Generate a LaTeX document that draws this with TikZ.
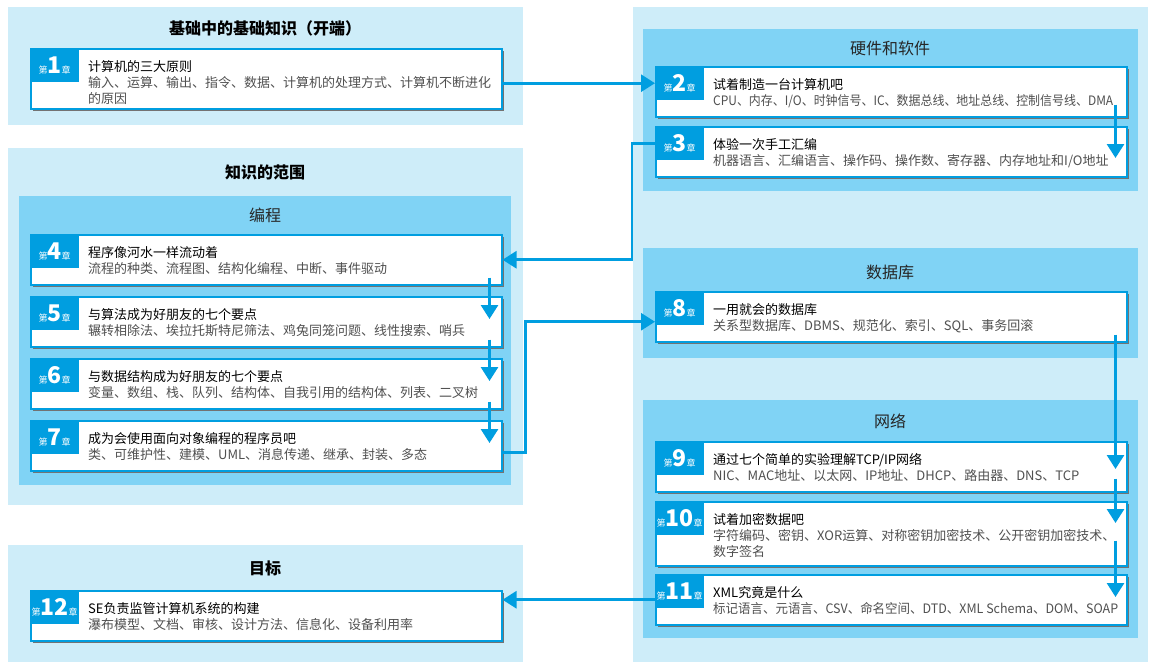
\documentclass[tikz,border=0pt]{standalone}
\usepackage{fontspec}
\setmainfont{Noto Sans CJK SC}
\usepackage{tikz}
\usetikzlibrary{arrows.meta, shadows}

\definecolor{paleblue}{RGB}{206,237,249}
\definecolor{midblue}{RGB}{128,211,245}
\definecolor{chapblue}{RGB}{0,158,224}
\definecolor{bodygray}{RGB}{80,80,80}

\newcommand{\chno}[1]{{\fontsize{9}{9}\selectfont 第}{\fontsize{23}{23}\selectfont\bfseries #1}{\fontsize{9}{9}\selectfont 章}}

\begin{document}
\begin{tikzpicture}[x=1pt, y=-1pt,
  outer/.style={fill=paleblue},
  inner/.style={fill=midblue},
  head/.style={font=\fontsize{16}{16}\selectfont\bfseries},
  subhead/.style={font=\fontsize{16}{16}\selectfont, text=black!85},
  chap/.style={draw=chapblue, line width=1.5pt, fill=white, minimum width=471, anchor=north west, inner sep=0,
    drop shadow={shadow xshift=2pt, shadow yshift=-2pt, fill=black!55, opacity=1}},
  tab/.style={fill=chapblue, text=white, minimum width=49, minimum height=34, anchor=north west, inner sep=0},
  txt/.style={anchor=base west, align=left, inner sep=0, font=\fontsize{13}{16}\selectfont},
  link/.style={draw=chapblue, line width=2.8pt, -{Triangle[width=17pt,length=14pt]}}]
  \useasboundingbox (0,0) rectangle (1152,672);

  % panels
  \fill[outer] (8,7) rectangle (523,125);
  \fill[outer] (8,148) rectangle (523,505);
  \fill[inner] (19,196) rectangle (511,485);
  \fill[outer] (8,545) rectangle (523,662);
  \fill[outer] (633,7) rectangle (1148,662);
  \fill[inner] (643,29) rectangle (1138,191);
  \fill[inner] (643,248) rectangle (1138,358);
  \fill[inner] (643,400) rectangle (1138,638);

  \node[head] (h1) at (265,28) {基础中的基础知识（开端）};
  \node[head] (h2) at (265,172) {知识的范围};
  \node[subhead] (h3) at (265,215) {编程};
  \node[head] (h4) at (265,568) {目标};
  \node[subhead] (h5) at (890,48) {硬件和软件};
  \node[subhead] (h6) at (890,272) {数据库};
  \node[subhead] (h7) at (890,421) {网络};

  % chapters
  \node[chap, minimum height=60] (c1) at (30,48) {};
  \node[tab] (t1) at (c1.north west) {\chno{1}};
  \node[txt] (x1) at ([shift={(58,55)}]c1.north west) {计算机的三大原则\\
    \color{bodygray}输入、运算、输出、指令、数据、计算机的处理方式、计算机不断进化\\\color{bodygray}的原因};

  \node[chap, minimum height=50] (c2) at (655,66) {};
  \node[tab] (t2) at (c2.north west) {\chno{2}};
  \node[txt] (x2) at ([shift={(58,39)}]c2.north west) {试着制造一台计算机吧\\
    \color{bodygray}\scalebox{0.92}[1]{CPU、内存、I/O、时钟信号、IC、数据总线、地址总线、控制信号线、DMA}};

  \node[chap, minimum height=50] (c3) at (655,126) {};
  \node[tab] (t3) at (c3.north west) {\chno{3}};
  \node[txt] (x3) at ([shift={(58,39)}]c3.north west) {体验一次手工汇编\\
    \color{bodygray}机器语言、汇编语言、操作码、操作数、寄存器、内存地址和I/O地址};

  \node[chap, minimum height=50] (c4) at (30,234) {};
  \node[tab] (t4) at (c4.north west) {\chno{4}};
  \node[txt] (x4) at ([shift={(58,39)}]c4.north west) {程序像河水一样流动着\\
    \color{bodygray}流程的种类、流程图、结构化编程、中断、事件驱动};

  \node[chap, minimum height=50] (c5) at (30,296) {};
  \node[tab] (t5) at (c5.north west) {\chno{5}};
  \node[txt] (x5) at ([shift={(58,39)}]c5.north west) {与算法成为好朋友的七个要点\\
    \color{bodygray}辗转相除法、埃拉托斯特尼筛法、鸡兔同笼问题、线性搜索、哨兵};

  \node[chap, minimum height=50] (c6) at (30,358) {};
  \node[tab] (t6) at (c6.north west) {\chno{6}};
  \node[txt] (x6) at ([shift={(58,39)}]c6.north west) {与数据结构成为好朋友的七个要点\\
    \color{bodygray}变量、数组、栈、队列、结构体、自我引用的结构体、列表、二叉树};

  \node[chap, minimum height=50] (c7) at (30,420) {};
  \node[tab] (t7) at (c7.north west) {\chno{7}};
  \node[txt] (x7) at ([shift={(58,39)}]c7.north west) {成为会使用面向对象编程的程序员吧\\
    \color{bodygray}类、可维护性、建模、UML、消息传递、继承、封装、多态};

  \node[chap, minimum height=50] (c8) at (655,291) {};
  \node[tab] (t8) at (c8.north west) {\chno{8}};
  \node[txt] (x8) at ([shift={(58,39)}]c8.north west) {一用就会的数据库\\
    \color{bodygray}关系型数据库、DBMS、规范化、索引、SQL、事务回滚};

  \node[chap, minimum height=50] (c9) at (655,441) {};
  \node[tab] (t9) at (c9.north west) {\chno{9}};
  \node[txt] (x9) at ([shift={(58,39)}]c9.north west) {通过七个简单的实验理解TCP/IP网络\\
    \color{bodygray}NIC、MAC地址、以太网、IP地址、DHCP、路由器、DNS、TCP};

  \node[chap, minimum height=64] (c10) at (655,501) {};
  \node[tab] (t10) at (c10.north west) {\chno{10}};
  \node[txt] (x10) at ([shift={(58,55)}]c10.north west) {试着加密数据吧\\
    \color{bodygray}字符编码、密钥、XOR运算、对称密钥加密技术、公开密钥加密技术、\\\color{bodygray}数字签名};

  \node[chap, minimum height=50] (c11) at (655,574) {};
  \node[tab] (t11) at (c11.north west) {\chno{11}};
  \node[txt] (x11) at ([shift={(58,39)}]c11.north west) {XML究竟是什么\\
    \color{bodygray}\scalebox{0.96}[1]{标记语言、元语言、CSV、命名空间、DTD、XML Schema、DOM、SOAP}};

  \node[chap, minimum height=50] (c12) at (30,590) {};
  \node[tab] (t12) at (c12.north west) {\chno{12}};
  \node[txt] (x12) at ([shift={(58,39)}]c12.north west) {SE负责监管计算机系统的构建\\
    \color{bodygray}瀑布模型、文档、审核、设计方法、信息化、设备利用率};

  % links
  \draw[link] (c1.east |- t2.west) -- (t2.west);
  \draw[link] ([shift={(-12,-13)}]c2.south east) -- ([shift={(-12,32)}]c3.north east);
  \draw[link] (t3.west) -- ++(-23,0) |- (c4.east);
  \draw[link] ([shift={(-13,-8)}]c4.south east) -- ([shift={(-13,23)}]c5.north east);
  \draw[link] ([shift={(-13,-8)}]c5.south east) -- ([shift={(-13,23)}]c6.north east);
  \draw[link] ([shift={(-13,-8)}]c6.south east) -- ([shift={(-13,23)}]c7.north east);
  \draw[link] ([shift={(0,7)}]c7.east) -- ++(23,0) |- ([shift={(0,5)}]c8.west);
  \draw[link] ([shift={(-12,-8)}]c8.south east) -- ([shift={(-12,28)}]c9.north east);
  \draw[link] ([shift={(-12,-14)}]c9.south east) -- ([shift={(-12,22)}]c10.north east);
  \draw[link] ([shift={(-12,-26)}]c10.south east) -- ([shift={(-12,23)}]c11.north east);
  \draw[link] (c11.west) -- (c12.east |- c11.west);
\end{tikzpicture}
\end{document}
